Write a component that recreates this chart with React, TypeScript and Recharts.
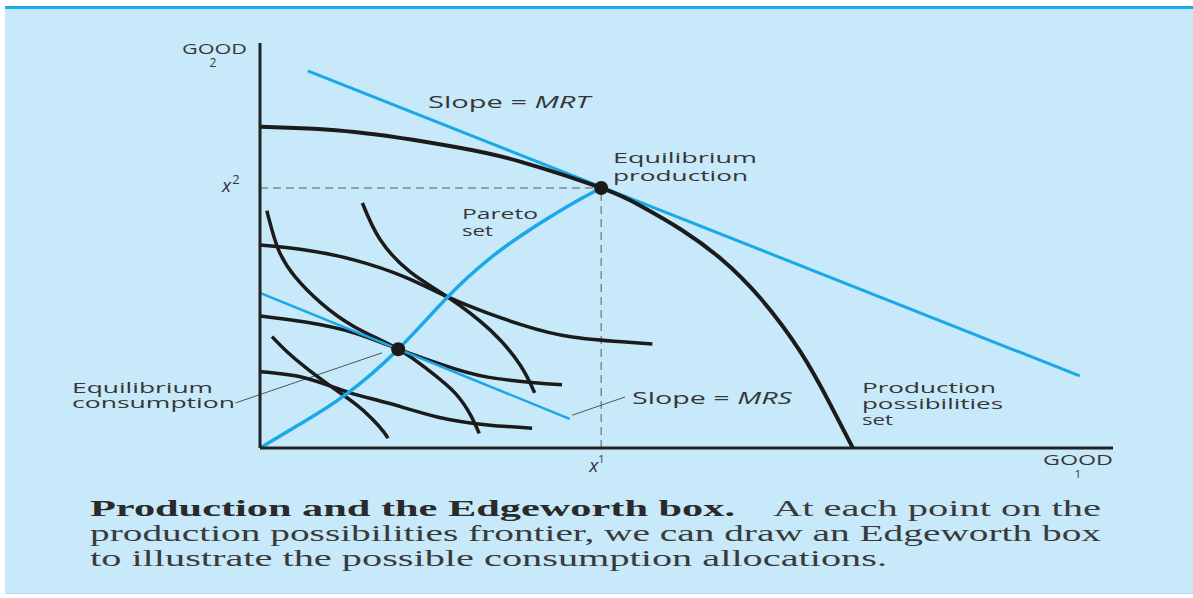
import React from 'react';
import { LineChart, Line, XAxis, YAxis, ReferenceLine, ReferenceDot } from 'recharts';

// axes run 0..100 for both goods
const ppfCurve = [
  { x: 0, y: 79.3 }, { x: 11.1, y: 78.0 }, { x: 22.9, y: 74.3 }, { x: 30.7, y: 70.6 },
  { x: 40.0, y: 64.2 }, { x: 44.7, y: 59.7 }, { x: 49.4, y: 53.9 }, { x: 54.1, y: 46.6 },
  { x: 58.7, y: 36.9 }, { x: 63.4, y: 23.6 }, { x: 66.9, y: 10.6 }, { x: 69.5, y: 0 },
];
const paretoSet = [
  { x: 0, y: 0 }, { x: 4.7, y: 5.9 }, { x: 10.0, y: 13.1 }, { x: 16.2, y: 24.4 },
  { x: 22.0, y: 37.3 }, { x: 26.7, y: 46.4 }, { x: 30.5, y: 52.3 }, { x: 33.8, y: 56.8 },
  { x: 36.9, y: 60.7 }, { x: 40.0, y: 64.2 },
];
const mrtLine = [{ x: 5.6, y: 93.1 }, { x: 96.1, y: 17.8 }];
const mrsLine = [{ x: 0, y: 38.3 }, { x: 36.3, y: 7.2 }];

// consumer A indifference curves (from origin)
const icA1 = [
  { x: 0, y: 18.8 }, { x: 5.3, y: 17.3 }, { x: 10.3, y: 13.8 }, { x: 15.0, y: 11.1 },
  { x: 20.9, y: 7.6 }, { x: 26.7, y: 5.7 }, { x: 31.9, y: 4.9 },
];
const icA2 = [
  { x: 0, y: 32.6 }, { x: 5.3, y: 31.1 }, { x: 11.1, y: 28.4 }, { x: 16.2, y: 24.4 },
  { x: 20.9, y: 20.9 }, { x: 26.7, y: 17.5 }, { x: 35.4, y: 15.6 },
];
const icA3 = [
  { x: 0, y: 50.1 }, { x: 5.3, y: 48.9 }, { x: 11.1, y: 46.4 }, { x: 17.0, y: 42.2 },
  { x: 22.0, y: 37.3 }, { x: 26.7, y: 33.3 }, { x: 30.7, y: 30.4 }, { x: 36.6, y: 27.4 },
  { x: 46.0, y: 25.7 },
];
// consumer B indifference curves (from the production point)
const icB0 = [
  { x: 1.4, y: 27.5 }, { x: 3.3, y: 23.5 }, { x: 5.7, y: 19.3 }, { x: 8.4, y: 15.1 },
  { x: 11.1, y: 11.0 }, { x: 13.1, y: 7.3 }, { x: 14.5, y: 4.0 }, { x: 15.0, y: 2.4 },
];
const icB1 = [
  { x: 0.8, y: 58.6 }, { x: 2.1, y: 49.3 }, { x: 4.1, y: 42.3 }, { x: 7.2, y: 35.7 },
  { x: 11.1, y: 29.9 }, { x: 16.2, y: 24.4 }, { x: 19.7, y: 19.3 }, { x: 22.9, y: 13.5 },
  { x: 24.8, y: 7.7 }, { x: 25.7, y: 3.6 },
];
const icB2 = [
  { x: 12.0, y: 60.5 }, { x: 14.1, y: 51.4 }, { x: 17.6, y: 43.5 }, { x: 22.0, y: 37.3 },
  { x: 27.0, y: 29.1 }, { x: 30.5, y: 20.5 }, { x: 32.2, y: 13.6 },
];

const production = { x: 40.0, y: 64.2 };
const consumption = { x: 16.2, y: 24.4 };
const consumptionLeader = [{ x: -2.9, y: 11.1 }, { x: 14.3, y: 23.5 }];
const mrsLeader = [{ x: 36.6, y: 8.1 }, { x: 42.8, y: 12.6 }];

const BLUE = '#1aa8e8';
const BLACK = '#1b1b1b';
const GREY = '#7d8a92';
const LABEL = '#363636';
const SANS = '"Open Sans", sans-serif';
const SERIF = '"Liberation Serif", serif';

const XTick = ({ x, y }: any) => (
  <text x={x - 12} y={y + 24} fontFamily={SANS} fontStyle="italic" fontSize={19} fill={LABEL}>
    x<tspan dy={-9} fontSize={11} fontStyle="normal">1</tspan>
  </text>
);

const YTick = ({ x, y }: any) => (
  <text x={x - 38} y={y + 4} fontFamily={SANS} fontStyle="italic" fontSize={19} fill={LABEL}>
    x<tspan dx={1} dy={-8} fontSize={13} fontStyle="normal">2</tspan>
  </text>
);

function T({ x, y, w, size = 15, children, anchor, family = SANS, weight, color = LABEL }: any) {
  return (
    <text
      x={x}
      y={y}
      textLength={w}
      lengthAdjust="spacingAndGlyphs"
      fontSize={size}
      fontFamily={family}
      fontWeight={weight}
      textAnchor={anchor}
      fill={color}
    >
      {children}
    </text>
  );
}

const curves = [icA1, icA2, icA3, icB0, icB1, icB2];

export default function App() {
  return (
    <div style={{ position: 'fixed', left: 0, top: 0, width: 1193, height: 598, background: '#fff' }}>
      <div
        style={{
          position: 'absolute', left: 5, top: 6, right: 0, bottom: 4,
          background: '#c7e9f9', borderTop: '3px solid #1aaeea', borderBottom: '1px solid #b0dcf0',
        }}
      />
      <div style={{ position: 'absolute', left: 0, top: 0 }}>
        <LineChart width={1193} height={598} margin={{ top: 43, right: 80, bottom: 0, left: 0 }}>
          <XAxis
            type="number"
            dataKey="x"
            domain={[0, 100]}
            ticks={[production.x]}
            tick={<XTick />}
            tickLine={false}
            tickSize={0}
            tickMargin={0}
            height={150}
            axisLine={{ stroke: '#222', strokeWidth: 3 }}
            allowDataOverflow
          />
          <YAxis
            type="number"
            dataKey="y"
            domain={[0, 100]}
            ticks={[production.y]}
            tick={<YTick />}
            tickLine={false}
            tickSize={0}
            tickMargin={0}
            width={260}
            axisLine={{ stroke: '#222', strokeWidth: 3 }}
            allowDataOverflow
          />
          <ReferenceLine
            segment={[{ x: 0, y: production.y }, production]}
            stroke={GREY} strokeWidth={1.5} strokeDasharray="8 5"
          />
          <ReferenceLine
            segment={[{ x: production.x, y: 0 }, production]}
            stroke={GREY} strokeWidth={1.5} strokeDasharray="8 5"
          />
          <ReferenceLine segment={consumptionLeader} stroke="#555" strokeWidth={1} ifOverflow="visible" />
          <ReferenceLine segment={mrsLeader} stroke="#555" strokeWidth={1} ifOverflow="visible" />
          {curves.map((c, i) => (
            <Line
              key={i}
              data={c}
              dataKey="y"
              type="natural"
              stroke={BLACK}
              strokeWidth={3.5}
              dot={false}
              isAnimationActive={false}
            />
          ))}
          <Line data={mrsLine} dataKey="y" type="linear" stroke={BLUE} strokeWidth={2.5} dot={false} isAnimationActive={false} />
          <Line data={paretoSet} dataKey="y" type="natural" stroke={BLUE} strokeWidth={3.5} dot={false} isAnimationActive={false} />
          <Line data={mrtLine} dataKey="y" type="linear" stroke={BLUE} strokeWidth={3} dot={false} isAnimationActive={false} />
          <Line data={ppfCurve} dataKey="y" type="natural" stroke={BLACK} strokeWidth={4} dot={false} isAnimationActive={false} />
          <ReferenceDot x={production.x} y={production.y} r={7} fill={BLACK} stroke="none" />
          <ReferenceDot x={consumption.x} y={consumption.y} r={7} fill={BLACK} stroke="none" />
        </LineChart>
      </div>
      <svg
        width={1193}
        height={598}
        style={{ position: 'absolute', left: 0, top: 0, pointerEvents: 'none' }}
      >
        <T x={182} y={54} w={65} size={14}>GOOD</T>
        <T x={213} y={67} size={12} anchor="middle">2</T>
        <T x={1043} y={465} w={70} size={14}>GOOD</T>
        <T x={1078} y={478} size={11} anchor="middle">1</T>

        <T x={428} y={108} w={162} size={17}>
          Slope = <tspan fontStyle="italic">MRT</tspan>
        </T>
        <T x={613} y={163} w={144}>Equilibrium</T>
        <T x={613} y={181} w={135}>production</T>
        <T x={462} y={219} w={76}>Pareto</T>
        <T x={462} y={236} w={31}>set</T>
        <T x={72} y={393} w={141}>Equilibrium</T>
        <T x={72} y={408} w={163}>consumption</T>
        <T x={632} y={404} w={160} size={17}>
          Slope = <tspan fontStyle="italic">MRS</tspan>
        </T>
        <T x={862} y={393} w={134}>Production</T>
        <T x={862} y={409} w={141}>possibilities</T>
        <T x={862} y={425} w={31}>set</T>

        <T x={90} y={516} w={645} size={24} family={SERIF} weight="bold" color="#2a2a2a">
          Production and the Edgeworth box.
        </T>
        <T x={773} y={516} w={328} size={24} family={SERIF} color="#3a3a3a">
          At each point on the
        </T>
        <T x={90} y={541} w={1011} size={24} family={SERIF} color="#3a3a3a">
          production possibilities frontier, we can draw an Edgeworth box
        </T>
        <T x={90} y={566} w={797} size={24} family={SERIF} color="#3a3a3a">
          to illustrate the possible consumption allocations.
        </T>
      </svg>
    </div>
  );
}
